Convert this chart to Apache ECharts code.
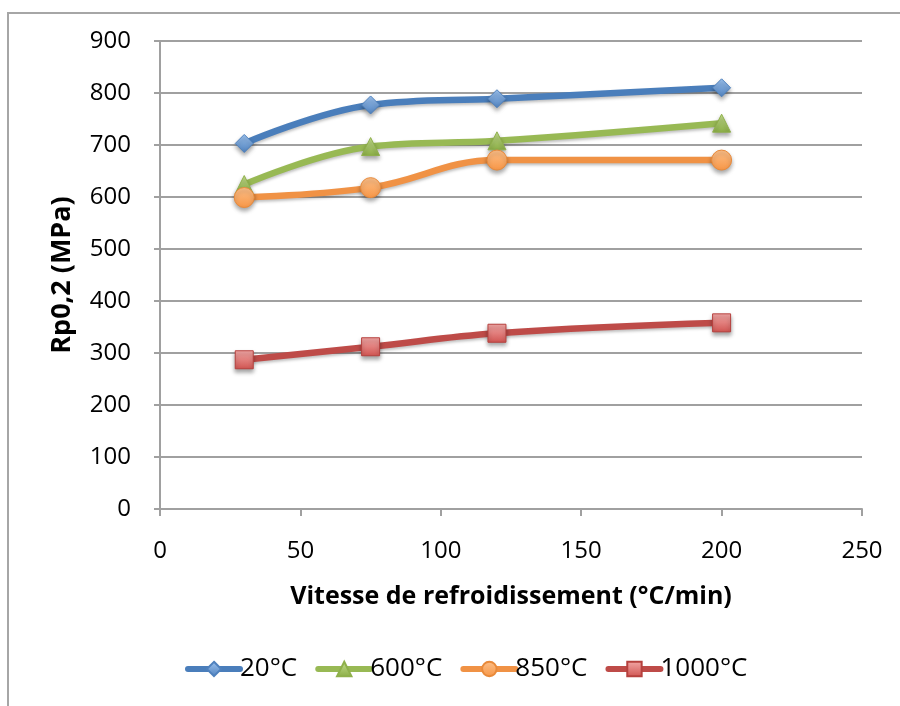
<!DOCTYPE html>
<html>
<head>
<meta charset="utf-8">
<script src="https://cdn.jsdelivr.net/npm/echarts@6/dist/echarts.min.js"></script>
<style>
html,body{margin:0;padding:0;background:#fff;}
#c{width:900px;height:706px;}
</style>
</head>
<body>
<div id="c"></div>
<script>
const xValues = [30, 75, 120, 200];
const s20 = [703, 777, 789, 810];
const s600 = [624, 697, 708, 742];
const s850 = [599, 618, 671, 671];
const s1000 = [287, 312, 338, 358];
const seriesNames = ['20°C', '600°C', '850°C', '1000°C'];
const xAxisName = 'Vitesse de refroidissement (°C/min)';
const yAxisName = 'Rp0,2 (MPa)';

const FONT = '"Open Sans", Lato, sans-serif';

function grad(light, dark) {
  return new echarts.graphic.LinearGradient(0, 0, 0, 1, [
    {offset: 0, color: light}, {offset: 1, color: dark}
  ]);
}

function mk(name, data, lineColor, symbol, size, light, dark, border) {
  return {
    name: name,
    type: 'line',
    data: xValues.map((x, i) => [x, data[i]]),
    smooth: 0.4,
    symbol: symbol,
    symbolSize: size,
    lineStyle: {color: lineColor, width: 6.5, cap: 'round', join: 'round', shadowColor: 'rgba(0,0,0,0.25)', shadowBlur: 3, shadowOffsetY: 2},
    itemStyle: {color: grad(light, dark), borderColor: border, borderWidth: 1, shadowColor: 'rgba(0,0,0,0.35)', shadowBlur: 4, shadowOffsetY: 3},
    emphasis: {disabled: true}
  };
}

const chart = echarts.init(document.getElementById('c'), null, {renderer: 'canvas'});
chart.setOption({
  animation: false,
  backgroundColor: '#fff',
  graphic: [{
    type: 'rect', shape: {x: 8, y: 13, width: 1000, height: 1000},
    style: {fill: 'none', stroke: '#a6a6a6', lineWidth: 2}, silent: true, z: -10
  }],
  grid: {left: 160, right: 38, top: 41, bottom: 197},
  legend: {
    top: 651, left: 180,
    itemWidth: 52, itemHeight: 18, itemGap: 18,
    lineStyle: {width: 6, cap: 'round'},
    textStyle: {fontFamily: FONT, fontSize: 26, color: '#000', padding: [0,0,0,-5]},
    data: seriesNames
  },
  xAxis: {
    type: 'value', min: 0, max: 250, interval: 50,
    name: xAxisName, nameLocation: 'middle', nameGap: 75,
    nameTextStyle: {fontFamily: FONT, fontSize: 25, fontWeight: 'bold', color: '#000'},
    axisLine: {show: true, lineStyle: {color: '#a0a0a0', width: 2}},
    axisTick: {show: true, length: 7, lineStyle: {color: '#a0a0a0', width: 2}},
    axisLabel: {fontFamily: FONT, fontSize: 24, color: '#000', margin: 30},
    splitLine: {show: false}
  },
  yAxis: {
    type: 'value', min: 0, max: 900, interval: 100,
    name: yAxisName, nameLocation: 'middle', nameGap: 84, nameRotate: 90,
    nameTextStyle: {fontFamily: FONT, fontSize: 27, fontWeight: 'bold', color: '#000'},
    axisLine: {show: true, lineStyle: {color: '#a0a0a0', width: 2}},
    axisTick: {show: true, length: 6, lineStyle: {color: '#a0a0a0', width: 2}},
    axisLabel: {fontFamily: FONT, fontSize: 24, color: '#000', margin: 29},
    splitLine: {show: true, lineStyle: {color: '#a0a0a0', width: 2}}
  },
  series: [
    mk(seriesNames[0], s20, '#4A7EBB', 'diamond', 18, '#9dc3f0', '#4F81BD', '#4f81bd'),
    mk(seriesNames[1], s600, '#98B954', 'triangle', 18, '#c6e08f', '#8aad45', '#8fb04b'),
    mk(seriesNames[2], s850, '#F09245', 'circle', 20, '#fcc08a', '#f79646', '#e98a3a'),
    mk(seriesNames[3], s1000, '#BE4B48', 'rect', 18, '#f3a9a7', '#d05451', '#b6413e')
  ]
});
</script>
</body>
</html>
